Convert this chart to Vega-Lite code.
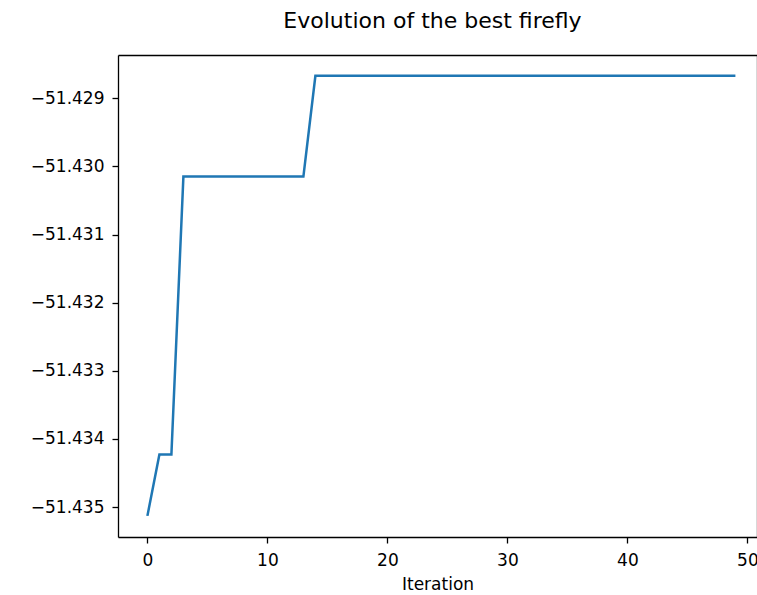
{
  "$schema": "https://vega.github.io/schema/vega-lite/v6.json",
  "autosize": {"type": "none"},
  "padding": {"left": 118, "top": 55, "right": 0, "bottom": 58},
  "width": 639,
  "height": 482,
  "background": "white",
  "config": {
    "font": "DejaVu Sans",
    "view": {"stroke": null},
    "axis": {
      "grid": false,
      "domainColor": "black",
      "domainWidth": 1.3,
      "tickColor": "black",
      "tickWidth": 1.3,
      "tickSize": 6,
      "labelFont": "DejaVu Sans",
      "labelFontSize": 17,
      "labelColor": "black",
      "titleFont": "DejaVu Sans",
      "titleFontSize": 17,
      "titleFontWeight": "normal",
      "titleColor": "black"
    }
  },
  "title": {
    "text": "Evolution of the best firefly",
    "font": "DejaVu Sans",
    "fontSize": 22,
    "fontWeight": "normal",
    "color": "black",
    "anchor": "middle",
    "dx": -5,
    "offset": 22
  },
  "data": {
    "values": [
      {"iter": 0, "value": -51.43513},
      {"iter": 1, "value": -51.43423},
      {"iter": 2, "value": -51.43423},
      {"iter": 3, "value": -51.43015},
      {"iter": 4, "value": -51.43015},
      {"iter": 5, "value": -51.43015},
      {"iter": 6, "value": -51.43015},
      {"iter": 7, "value": -51.43015},
      {"iter": 8, "value": -51.43015},
      {"iter": 9, "value": -51.43015},
      {"iter": 10, "value": -51.43015},
      {"iter": 11, "value": -51.43015},
      {"iter": 12, "value": -51.43015},
      {"iter": 13, "value": -51.43015},
      {"iter": 14, "value": -51.42867},
      {"iter": 15, "value": -51.42867},
      {"iter": 16, "value": -51.42867},
      {"iter": 17, "value": -51.42867},
      {"iter": 18, "value": -51.42867},
      {"iter": 19, "value": -51.42867},
      {"iter": 20, "value": -51.42867},
      {"iter": 21, "value": -51.42867},
      {"iter": 22, "value": -51.42867},
      {"iter": 23, "value": -51.42867},
      {"iter": 24, "value": -51.42867},
      {"iter": 25, "value": -51.42867},
      {"iter": 26, "value": -51.42867},
      {"iter": 27, "value": -51.42867},
      {"iter": 28, "value": -51.42867},
      {"iter": 29, "value": -51.42867},
      {"iter": 30, "value": -51.42867},
      {"iter": 31, "value": -51.42867},
      {"iter": 32, "value": -51.42867},
      {"iter": 33, "value": -51.42867},
      {"iter": 34, "value": -51.42867},
      {"iter": 35, "value": -51.42867},
      {"iter": 36, "value": -51.42867},
      {"iter": 37, "value": -51.42867},
      {"iter": 38, "value": -51.42867},
      {"iter": 39, "value": -51.42867},
      {"iter": 40, "value": -51.42867},
      {"iter": 41, "value": -51.42867},
      {"iter": 42, "value": -51.42867},
      {"iter": 43, "value": -51.42867},
      {"iter": 44, "value": -51.42867},
      {"iter": 45, "value": -51.42867},
      {"iter": 46, "value": -51.42867},
      {"iter": 47, "value": -51.42867},
      {"iter": 48, "value": -51.42867},
      {"iter": 49, "value": -51.42867}
    ]
  },
  "layer": [
    {
      "mark": {"type": "line", "color": "#1f77b4", "strokeWidth": 2.5, "clip": true},
      "encoding": {
        "x": {
          "field": "iter",
          "type": "quantitative",
          "scale": {"domain": [-2.45, 50.8], "nice": false, "zero": false},
          "axis": {
            "orient": "bottom",
            "values": [0, 10, 20, 30, 40, 50],
            "format": "d",
            "labelPadding": 9,
            "title": "Iteration",
            "titlePadding": 8
          }
        },
        "y": {
          "field": "value",
          "type": "quantitative",
          "scale": {"domain": [-51.43544, -51.428365], "nice": false, "zero": false},
          "axis": {
            "values": [-51.429, -51.43, -51.431, -51.432, -51.433, -51.434, -51.435],
            "format": ".3f",
            "labelPadding": 8,
            "title": "Objective function value",
            "titleAngle": 270,
            "titleAlign": "center",
            "titleBaseline": "alphabetic",
            "titleX": -126,
            "titleY": 240
          }
        }
      }
    },
    {
      "mark": {"type": "line", "opacity": 0},
      "encoding": {
        "x": {
          "field": "iter",
          "type": "quantitative",
          "axis": {"orient": "top", "labels": false, "ticks": false, "title": null, "values": []}
        },
        "y": {
          "field": "value",
          "type": "quantitative"
        }
      }
    }
  ],
  "resolve": {"axis": {"x": "independent", "y": "independent"}}
}
